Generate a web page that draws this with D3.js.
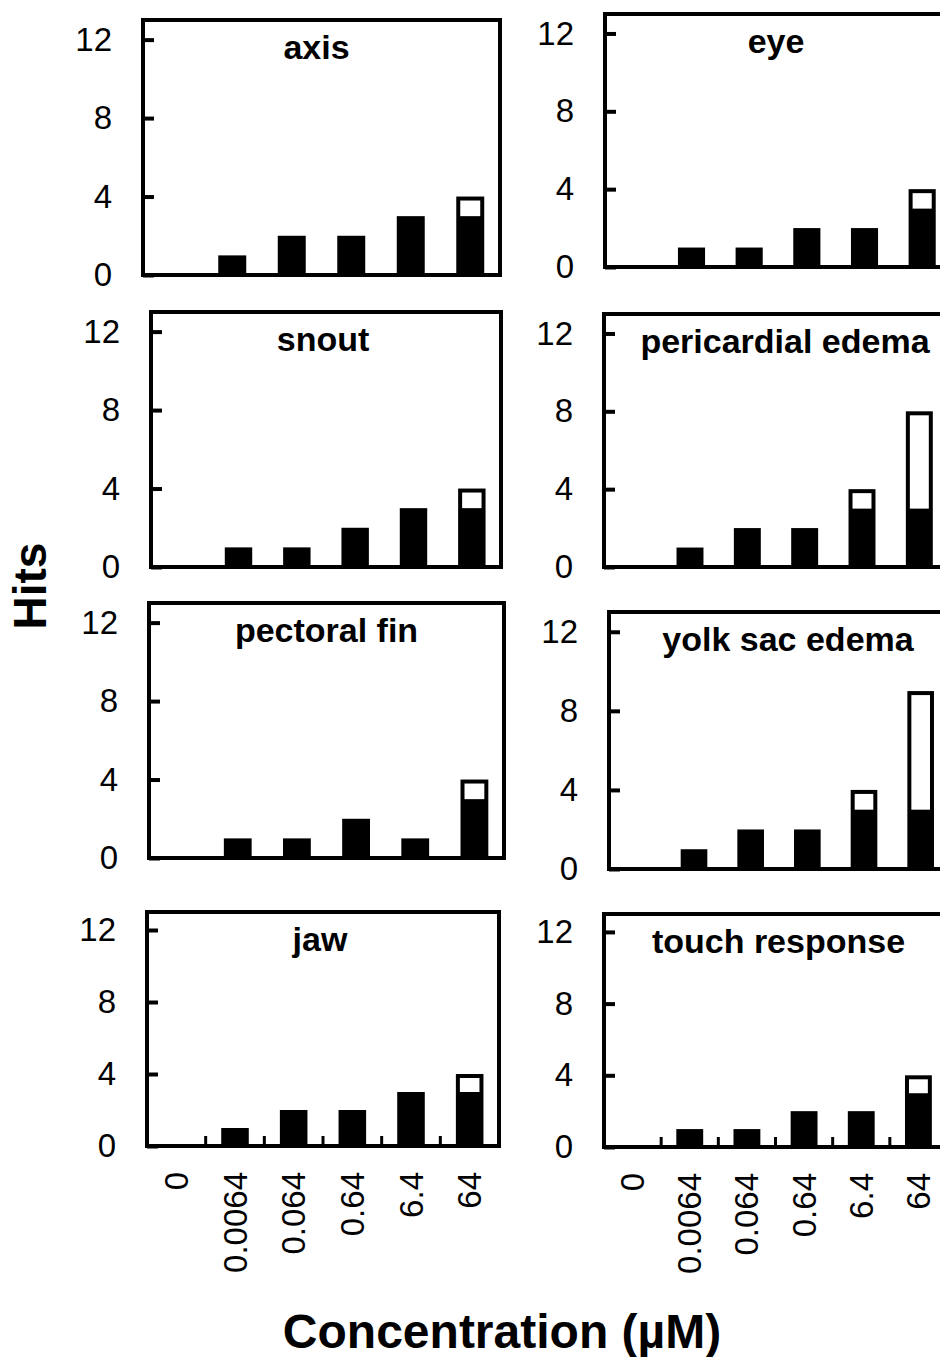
<!DOCTYPE html>
<html>
<head>
<meta charset="utf-8">
<script src="https://cdn.jsdelivr.net/npm/d3@7"></script>
<style>
  body { margin: 0; background: #fff; }
  svg { display: block; font-family: "Liberation Sans", Arial, sans-serif; }
</style>
</head>
<body>
<svg id="chart" width="940" height="1357"></svg>
<script>
// Data
const concentrations = ['0', '0.0064', '0.064', '0.64', '6.4', '64'];
const endpoints = ['axis', 'eye', 'snout', 'pericardial edema',
                   'pectoral fin', 'yolk sac edema', 'jaw', 'touch response'];
// black (solid) part of each bar
const solidHits = [
    [0, 1, 2, 2, 3, 3],   // axis
    [0, 1, 1, 2, 2, 3],   // eye
    [0, 1, 1, 2, 3, 3],   // snout
    [0, 1, 2, 2, 3, 3],   // pericardial edema
    [0, 1, 1, 2, 1, 3],   // pectoral fin
    [0, 1, 2, 2, 3, 3],   // yolk sac edema
    [0, 1, 2, 2, 3, 3],   // jaw
    [0, 1, 1, 2, 2, 3]    // touch response
];
// white (open) part stacked on top
const openHits = [
    [0, 0, 0, 0, 0, 1],
    [0, 0, 0, 0, 0, 1],
    [0, 0, 0, 0, 0, 1],
    [0, 0, 0, 0, 1, 5],
    [0, 0, 0, 0, 0, 1],
    [0, 0, 0, 0, 1, 6],
    [0, 0, 0, 0, 0, 1],
    [0, 0, 0, 0, 0, 1]
];
const yTicks = [0, 4, 8, 12];
const yMax = 13;

// Panel placement (the figure is a collage, boxes are not exactly aligned)
const panelBoxes = [
    {x: 143, top: 20,  w: 357, bottom: 275,  dx: -5, xLabels: false},
    {x: 605, top: 14,  w: 346, bottom: 267,  dx: -2, xLabels: false},
    {x: 151, top: 312, w: 350, bottom: 567,  dx: -3, xLabels: false},
    {x: 604, top: 314, w: 344, bottom: 567,  dx: 9,  xLabels: false},
    {x: 149, top: 603, w: 355, bottom: 858,  dx: 0,  xLabels: false},
    {x: 609, top: 612, w: 340, bottom: 869,  dx: 9,  xLabels: false},
    {x: 147, top: 912, w: 352, bottom: 1146, dx: -3, xLabels: true},
    {x: 604, top: 914, w: 343, bottom: 1147, dx: 3,  xLabels: true}
];

const svg = d3.select('#chart');

endpoints.forEach(function(name, i) {
    const p = panelBoxes[i];
    const w = p.w, h = p.bottom - p.top;
    const g = svg.append('g').attr('transform', 'translate(' + p.x + ',' + p.top + ')');

    const x = d3.scaleBand().domain(concentrations).range([0, w])
        .paddingInner(0.53).paddingOuter(0.265);
    const y = d3.scaleLinear().domain([0, yMax]).range([h, 0]);

    const rows = concentrations.map(function(c, j) {
        return {c: c, solid: solidHits[i][j], open: openHits[i][j]};
    });

    // whole bar in black, then the open part punched out in white
    g.append('g').selectAll('rect')
        .data(rows.filter(d => d.solid + d.open > 0))
        .enter().append('rect')
        .attr('x', d => x(d.c))
        .attr('y', d => y(d.solid + d.open))
        .attr('width', x.bandwidth())
        .attr('height', d => h - y(d.solid + d.open))
        .attr('fill', '#000');

    g.append('g').selectAll('rect')
        .data(rows.filter(d => d.open > 0))
        .enter().append('rect')
        .attr('x', d => x(d.c) + 4)
        .attr('y', d => y(d.solid + d.open) + 4)
        .attr('width', x.bandwidth() - 8)
        .attr('height', d => y(d.solid) - y(d.solid + d.open) - 4)
        .attr('fill', '#fff');

    // frame
    g.append('rect')
        .attr('width', w).attr('height', h)
        .attr('fill', 'none').attr('stroke', '#000').attr('stroke-width', 4);

    // y axis, ticks pointing inward
    const yAxis = g.append('g')
        .call(d3.axisLeft(y).tickValues(yTicks).tickSizeInner(-11).tickSizeOuter(0).tickPadding(31));
    yAxis.select('.domain').remove();
    yAxis.selectAll('line').attr('stroke-width', 4);
    yAxis.selectAll('text').attr('font-size', 33).attr('fill', '#000')
        .attr('font-family', '"Liberation Sans", Arial, sans-serif');

    // title
    g.append('text')
        .attr('x', w / 2 + p.dx).attr('y', 39)
        .attr('text-anchor', 'middle')
        .attr('font-size', 34).attr('font-weight', 'bold')
        .text(name);

    if (p.xLabels) {
        // small inward ticks between the groups
        g.append('g').selectAll('line')
            .data(concentrations.slice(1))
            .enter().append('line')
            .attr('x1', d => x(d) - x.step() * x.paddingInner() / 2)
            .attr('x2', d => x(d) - x.step() * x.paddingInner() / 2)
            .attr('y1', h).attr('y2', h - 10)
            .attr('stroke', '#000').attr('stroke-width', 3);

        const xAxis = g.append('g')
            .attr('transform', 'translate(0,' + h + ')')
            .call(d3.axisBottom(x).tickSize(0));
        xAxis.select('.domain').remove();
        xAxis.selectAll('text')
            .attr('transform', 'rotate(-90)')
            .attr('text-anchor', 'end')
            .attr('x', -26).attr('y', 0).attr('dy', '0.35em')
            .attr('font-size', 33).attr('fill', '#000')
            .attr('font-family', '"Liberation Sans", Arial, sans-serif');
    }
});

// shared axis titles
svg.append('text')
    .attr('transform', 'translate(30,586) rotate(-90)')
    .attr('text-anchor', 'middle').attr('dy', '0.35em')
    .attr('font-size', 46).attr('font-weight', 'bold')
    .text('Hits');

svg.append('text')
    .attr('x', 502).attr('y', 1348)
    .attr('text-anchor', 'middle')
    .attr('font-size', 48).attr('font-weight', 'bold')
    .text('Concentration (µM)');
</script>
</body>
</html>
